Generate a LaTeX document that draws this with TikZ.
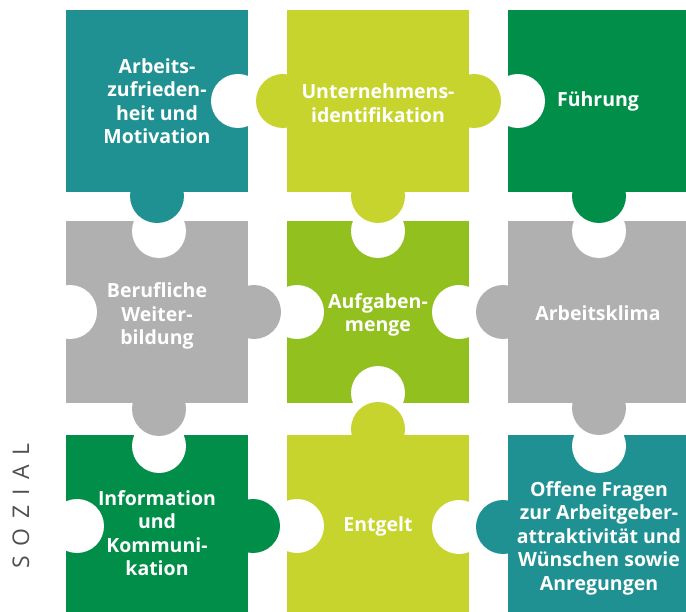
\documentclass[tikz,border=0pt]{standalone}
\usepackage{fontspec}
\setmainfont{Open Sans}
\newfontfamily\sozialfont[LetterSpace=42]{Open Sans}
\definecolor{cteal}{RGB}{32,145,146}
\definecolor{cyg}{RGB}{200,212,46}
\definecolor{cdg}{RGB}{0,142,72}
\definecolor{cgray}{RGB}{176,176,176}
\definecolor{cgreen}{RGB}{146,192,31}
\definecolor{csoz}{RGB}{80,80,80}
\begin{document}
\begin{tikzpicture}[x=1pt,y=-1pt,
  lbl/.style={text=white, font=\bfseries\fontsize{19.5}{23.5}\selectfont, align=center, inner sep=0pt},
  hole/.style={fill=white},
  tabr/.style={radius=27pt}]
\useasboundingbox (0,0) rectangle (686,612);
\clip (0,0) rectangle (686,612);
% piece bodies
\fill[cteal]  (66,10)  rectangle (248,192);
\fill[cyg]    (287,10) rectangle (469,192);
\fill[cdg]    (508,10) rectangle (692,192);
\fill[cgray]  (66,221) rectangle (248,403);
\fill[cgreen] (287,221) rectangle (469,403);
\fill[cgray]  (508,221) rectangle (692,403);
\fill[cdg]    (66,435) rectangle (248,620);
\fill[cyg]    (287,435) rectangle (469,620);
\fill[cteal]  (508,435) rectangle (692,620);
% holes
\fill[hole] (238,101) circle[tabr];
\fill[hole] (518,101) circle[tabr];
\fill[hole] (159,231) circle[tabr];
\fill[hole] (70,312)  circle[tabr];
\fill[hole] (378,231) circle[tabr];
\fill[hole] (297,312) circle[tabr];
\fill[hole] (459,312) circle[tabr];
\fill[hole] (378,393) circle[tabr];
\fill[hole] (599,231) circle[tabr];
\fill[hole] (159,446) circle[tabr];
\fill[hole] (77,526)  circle[tabr];
\fill[hole] (297,526) circle[tabr];
\fill[hole] (459,527) circle[tabr];
\fill[hole] (599,446) circle[tabr];
% tabs
\fill[cteal] (157,196) circle[tabr];
\fill[cyg]   (283,101) circle[tabr];
\fill[cyg]   (474,101) circle[tabr];
\fill[cyg]   (378,196) circle[tabr];
\fill[cdg]   (599,196) circle[tabr];
\fill[cgray] (254,312) circle[tabr];
\fill[cgray] (159,409) circle[tabr];
\fill[cgray] (503,312) circle[tabr];
\fill[cgray] (599,408) circle[tabr];
\fill[cdg]   (253,526) circle[tabr];
\fill[cyg]   (378,429) circle[tabr];
\fill[cteal] (503,527) circle[tabr];
% labels
\node[lbl] (t11) at (157,101) {Arbeits-\\zufrieden-\\heit und\\Motivation};
\node[lbl] (t12) at (378,103) {Unternehmens-\\identifikation};
\node[lbl] (t13) at (598,101) {Führung};
\node[lbl] (t21) at (157,316) {Berufliche\\Weiter-\\bildung};
\node[lbl] (t22) at (378,315) {Aufgaben-\\menge};
\node[lbl] (t23) at (598,313) {Arbeitsklima};
\node[lbl] (t31) at (157,533) {Information\\und\\Kommuni-\\kation};
\node[lbl] (t32) at (378,526) {Entgelt};
\node[lbl] (t33) at (599,538) {Offene Fragen\\zur Arbeitgeber-\\attraktivität und\\Wünschen sowie\\Anregungen};
\node[rotate=90, text=csoz, font=\sozialfont\fontsize{23}{27}\selectfont, inner sep=0pt] (soz) at (21,506) {SOZIAL};
\end{tikzpicture}
\end{document}
